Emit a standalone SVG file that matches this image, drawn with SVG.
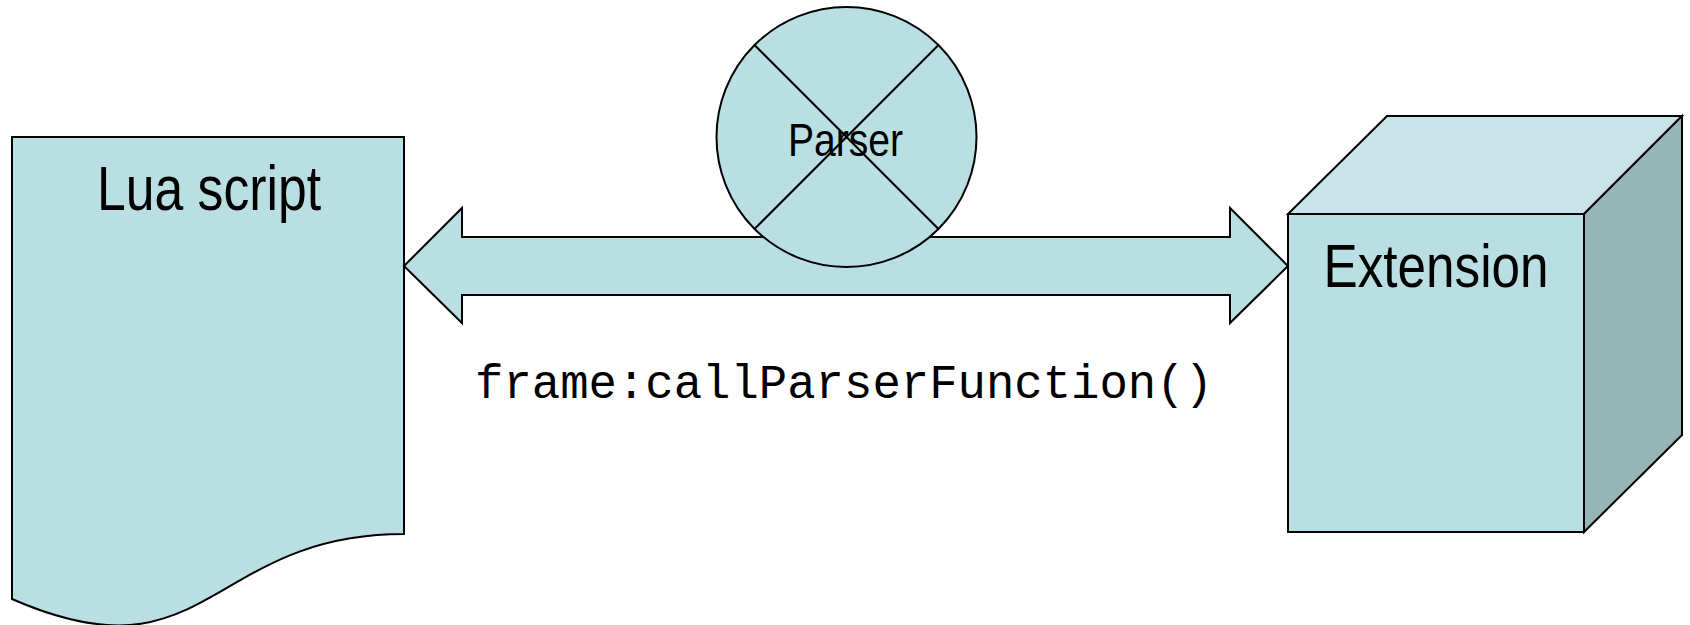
<svg xmlns="http://www.w3.org/2000/svg" width="1690" height="625" viewBox="0 0 1690 625">
<style>
.shape{fill:#BADFE2;stroke:#000;stroke-width:2;stroke-linejoin:miter}
.lbl{font-family:"Liberation Sans",Arial,sans-serif;fill:#000;text-anchor:middle}
.code{font-family:"Liberation Mono","Courier New",monospace;fill:#000}
</style>
<rect width="1690" height="625" fill="#fff"/>
<g id="lua-script">
<path class="shape" d="M12,137 H404 V534 C208,534 208,685 12,599 Z"/>
<text class="lbl" x="209" y="210" font-size="63" textLength="224" lengthAdjust="spacingAndGlyphs">Lua script</text>
</g>
<g id="connectors">
<path class="shape" d="M404,266 L462,208 V237 H1230 V208 L1288,266 L1230,323 V295 H462 V323 Z"/>
<text class="code" x="475" y="398" font-size="48" textLength="738" lengthAdjust="spacingAndGlyphs">frame:callParserFunction()</text>
</g>
<g id="parser">
<circle class="shape" cx="846.5" cy="137" r="130"/>
<line x1="754.5" y1="45" x2="938.5" y2="229" stroke="#000" stroke-width="2"/>
<line x1="938.5" y1="45" x2="754.5" y2="229" stroke="#000" stroke-width="2"/>
<text class="lbl" x="845.5" y="156" font-size="47" textLength="115" lengthAdjust="spacingAndGlyphs">Parser</text>
</g>
<g id="extension">
<path class="shape" d="M1288,214 L1387,116 H1682 L1584,214 Z" style="fill:#C8E4E8"/>
<path class="shape" d="M1584,214 L1682,116 V435 L1584,532 Z" style="fill:#97B4B6"/>
<rect class="shape" x="1288" y="214" width="296" height="318"/>
<text class="lbl" x="1436" y="287" font-size="61" textLength="225" lengthAdjust="spacingAndGlyphs">Extension</text>
</g>
</svg>
